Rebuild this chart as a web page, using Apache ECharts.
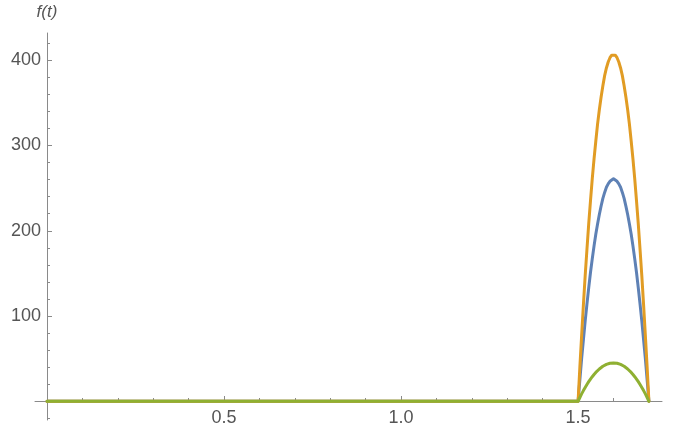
<!DOCTYPE html>
<html>
<head>
<meta charset="utf-8">
<script src="https://cdn.jsdelivr.net/npm/echarts@6/dist/echarts.min.js"></script>
<style>
  html, body { margin: 0; padding: 0; background: #fff; }
  #chart { width: 675px; height: 429px; }
</style>
</head>
<body>
<div id="chart"></div>
<script>
// Sample times (t) shared by all three curves
const tValues = [0, 1.5, 1.505, 1.51, 1.515, 1.52, 1.525, 1.53, 1.535, 1.54, 1.545,
  1.55, 1.555, 1.56, 1.565, 1.57, 1.575, 1.58, 1.585, 1.59, 1.595, 1.6,
  1.605, 1.61, 1.615, 1.62, 1.625, 1.63, 1.635, 1.64, 1.645, 1.65,
  1.655, 1.66, 1.665, 1.67, 1.675, 1.68, 1.685, 1.69, 1.695, 1.7];

const blueValues = [0, 0, 25, 50, 72, 94, 114, 133, 151, 167, 182,
  196, 208, 219, 229, 238, 245, 251, 255, 258, 260, 261,
  260, 258, 255, 251, 245, 238, 229, 219, 208, 196,
  182, 167, 151, 133, 114, 94, 72, 50, 25, 0];

const orangeValues = [0, 0, 40, 77, 113, 147, 178, 208, 235, 261, 284,
  305, 325, 342, 357, 370, 382, 391, 398, 403, 406, 407,
  406, 403, 398, 391, 382, 370, 357, 342, 325, 305,
  284, 261, 235, 208, 178, 147, 113, 77, 40, 0];

const greenValues = [0, 0, 4.4, 8.6, 12.5, 16.2, 19.7, 23.0, 26.0, 28.8, 31.4,
  33.8, 35.9, 37.8, 39.5, 41.0, 42.2, 43.2, 44.0, 44.6, 44.9, 45,
  44.9, 44.6, 44.0, 43.2, 42.2, 41.0, 39.5, 37.8, 35.9, 33.8,
  31.4, 28.8, 26.0, 23.0, 19.7, 16.2, 12.5, 8.6, 4.4, 0];

// Tick positions
const xMajorTicks = [0.5, 1.0, 1.5];
const xMinorTicks = [0.1, 0.2, 0.3, 0.4, 0.6, 0.7, 0.8, 0.9, 1.1, 1.2, 1.3, 1.4, 1.6, 1.7];
const yMajorTicks = [100, 200, 300, 400];
const yMinorTicks = [-20, 20, 40, 60, 80, 120, 140, 160, 180, 220, 240, 260, 280, 320, 340, 360, 380, 420];

const xMin = -0.034, xMax = 1.737;
const yMin = -22, yMax = 432;

// The axes cross at the origin: shift them from the grid edges onto t = 0 / f = 0
const xAxisOffset = -19;
const yAxisOffset = -12;

const axisColor = '#8a8a8a';
const labelColor = '#555555';
const font = '"Liberation Sans", Arial, sans-serif';

function pairs(ys) { return tValues.map((t, i) => [t, ys[i]]); }

// Main axes carry the line, major ticks and labels; the second pair only adds minor ticks
function xAxisDef(major) {
  return {
    type: 'value', min: xMin, max: xMax, gridIndex: 0, position: 'bottom', offset: xAxisOffset,
    splitLine: { show: false },
    axisLine: { show: major, onZero: false, lineStyle: { color: axisColor, width: 1 } },
    axisTick: { show: true, inside: true, length: major ? 5 : 3,
      customValues: major ? xMajorTicks : xMinorTicks,
      lineStyle: { color: axisColor } },
    axisLabel: major
      ? { show: true, customValues: xMajorTicks, margin: 8,
          color: labelColor, fontSize: 18, fontFamily: font,
          formatter: v => v.toFixed(1) }
      : { show: false }
  };
}

function yAxisDef(major) {
  return {
    type: 'value', min: yMin, max: yMax, gridIndex: 0, position: 'left', offset: yAxisOffset,
    splitLine: { show: false },
    name: major ? 'f(t)' : '',
    nameLocation: 'end', nameGap: 12,
    nameTextStyle: { color: labelColor, fontSize: 17, fontStyle: 'italic', fontFamily: font, align: 'center' },
    axisLine: { show: major, onZero: false, lineStyle: { color: axisColor, width: 1 } },
    axisTick: { show: true, inside: true, length: major ? 5 : 3,
      customValues: major ? yMajorTicks : yMinorTicks,
      lineStyle: { color: axisColor } },
    axisLabel: major
      ? { show: true, customValues: yMajorTicks, margin: 6,
          color: labelColor, fontSize: 18, fontFamily: font }
      : { show: false }
  };
}

function curve(values, color) {
  return {
    type: 'line', data: pairs(values), showSymbol: false,
    lineStyle: { color: color, width: 3, join: 'round', cap: 'round' },
    itemStyle: { color: color }
  };
}

const chart = echarts.init(document.getElementById('chart'));
chart.setOption({
  animation: false,
  backgroundColor: '#ffffff',
  grid: { left: 35, right: 13, top: 33, bottom: 9, containLabel: false, outerBoundsMode: 'none' },
  xAxis: [xAxisDef(true), xAxisDef(false)],
  yAxis: [yAxisDef(true), yAxisDef(false)],
  series: [
    curve(blueValues, '#5E81B5'),
    curve(orangeValues, '#E19C24'),
    curve(greenValues, '#8FB032')
  ]
});
</script>
</body>
</html>
